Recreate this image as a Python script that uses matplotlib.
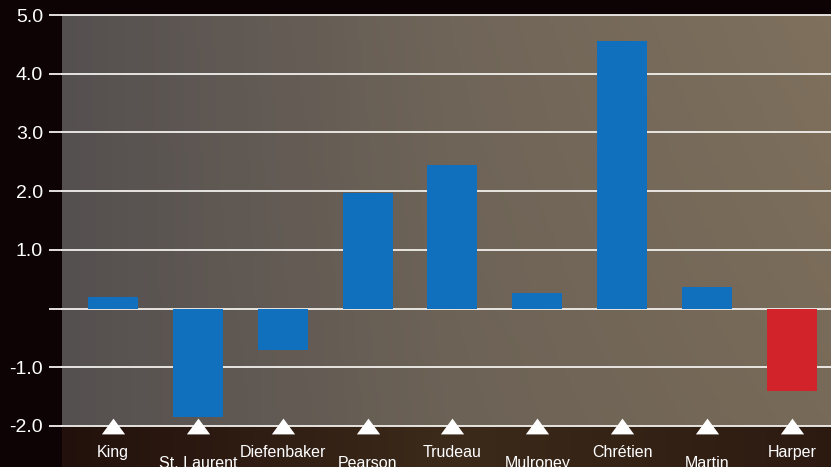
import numpy as np
import matplotlib
matplotlib.use("Agg")
import matplotlib.pyplot as plt

names = ["King", "St. Laurent", "Diefenbaker", "Pearson", "Trudeau",
         "Mulroney", "Chrétien", "Martin", "Harper"]
values = [0.2, -1.85, -0.7, 1.97, 2.45, 0.27, 4.55, 0.37, -1.41]
bar_colors = ["#1170bd"] * 8 + ["#d2232a"]
yticks = [5.0, 4.0, 3.0, 2.0, 1.0, 0.0, -1.0, -2.0]
ytick_labels = ["5.0", "4.0", "3.0", "2.0", "1.0", "", "-1.0", "-2.0"]

plt.rcParams["font.family"] = ["Liberation Sans", "DejaVu Sans"]

W, H = 831, 467
fig = plt.figure(figsize=(W / 100, H / 100), dpi=100, facecolor="#0d0305")

L, R, T, B = 62, 831, 15, 426
# bottom brown strip background
bg2 = fig.add_axes([L / W, 0, (R - L) / W, (H - B) / H], zorder=0)
gx = np.linspace(0, 1, 200)
c1 = np.array([0x22, 0x10, 0x0c]) / 255
c2 = np.array([0x3c, 0x2a, 0x1a]) / 255
prof = np.where(gx < 0.5, gx / 0.5, 1 - (gx - 0.5) / 0.5 * 0.6)
img2 = c1[None, :] * (1 - prof[:, None]) + c2[None, :] * prof[:, None]
bg2.imshow(img2[None, :, :], aspect="auto", extent=[0, 1, 0, 1])
bg2.axis("off")

# plot area background gradient
bg = fig.add_axes([L / W, (H - B) / H, (R - L) / W, (B - T) / H], zorder=0)
nx, ny = 200, 100
xx, yy = np.meshgrid(np.linspace(0, 1, nx), np.linspace(0, 1, ny))
left = np.array([0x55, 0x50, 0x50]) / 255
mid = np.array([0x6c, 0x62, 0x56]) / 255
right = np.array([0x78, 0x6a, 0x58]) / 255
t = xx[..., None]
col = np.where(t < 0.5, left + (mid - left) * (t / 0.5), mid + (right - mid) * ((t - 0.5) / 0.5))
col = col * (1 + 0.06 * (1 - yy[..., None]) * xx[..., None])
col = np.clip(col, 0, 1)
bg.imshow(col, aspect="auto", extent=[0, 1, 0, 1], origin="upper")
bg.axis("off")

ax = fig.add_axes([L / W, (H - B) / H, (R - L) / W, (B - T) / H], zorder=1)
ax.patch.set_alpha(0)
x = np.arange(len(names))
ax.bar(x, values, width=0.59, color=bar_colors, zorder=3)
ax.set_xlim(-0.6, 8.46)
ax.set_ylim(-2.0, 5.0)
ax.set_yticks(yticks)
ax.set_yticklabels(ytick_labels, color="white", fontsize=14)
for yv in yticks:
    ax.axhline(yv, color="#f2f0ec", lw=1.3, zorder=2, clip_on=False)
ax.tick_params(axis="y", length=9.4, width=1.3, color="#f2f0ec", pad=4.3)
ax.tick_params(axis="x", length=0)
ax.set_xticks([])
for s in ax.spines.values():
    s.set_visible(False)

# triangles and labels
tri = [(-1, -0.68), (1, -0.68), (0, 0.68), (-1, -0.68)]
ax.scatter(x, [-2.0] * len(x), marker=tri, s=280, color="white", zorder=5,
           clip_on=False, linewidths=0)
for i, n in enumerate(names):
    off = -19 if i % 2 == 0 else -27
    ax.annotate(n, (x[i], -2.0), xytext=(0, off), textcoords="offset points",
                ha="center", va="center", color="white", fontsize=11.5,
                annotation_clip=False)

fig.savefig("out.png", dpi=100, facecolor=fig.get_facecolor())
